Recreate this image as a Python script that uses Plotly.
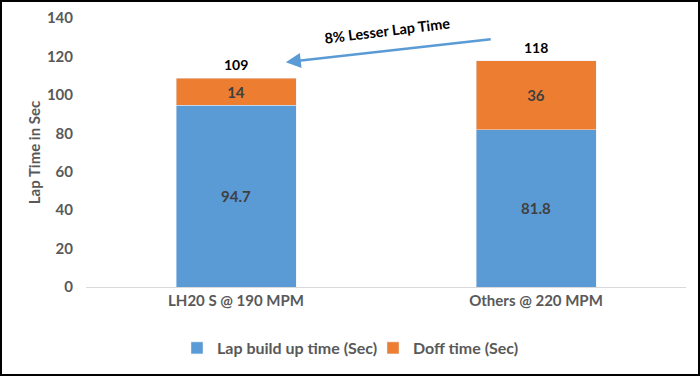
import plotly.graph_objects as go

categories = ["LH20 S @ 190 MPM", "Others @ 220 MPM"]
lap_build = [94.7, 81.8]
doff_time = [14, 36]
y_ticks = [0, 20, 40, 60, 80, 100, 120, 140]

totals = [a + b for a, b in zip(lap_build, doff_time)]

FONT = "Lato"
TXT = "#595959"
DARK = "#404040"

fig = go.Figure()
fig.add_trace(go.Bar(
    x=categories, y=lap_build, name="<b>Lap build up time (Sec)</b>",
    marker_color="#5B9BD5", text=[f"{v}" for v in lap_build],
    textposition="inside", insidetextanchor="middle",
    textfont=dict(family=FONT, size=15, color=DARK),
))
fig.add_trace(go.Bar(
    x=categories, y=doff_time, name="<b>Doff time (Sec)</b>",
    marker_color="#ED7D31", text=[f"{v}" for v in doff_time],
    textposition="inside", insidetextanchor="middle",
    textfont=dict(family=FONT, size=15, color=DARK),
))

for c, t in zip(categories, totals):
    fig.add_annotation(x=c, y=t, text=f"<b>{round(t)}</b>", showarrow=False,
                       yanchor="bottom", yshift=3,
                       font=dict(family=FONT, size=14, color="#000000"))

# arrow
fig.add_annotation(x=0.166, y=117, ax=0.854, ay=129, xref="x", yref="y",
                   axref="x", ayref="y", text="", showarrow=True,
                   arrowhead=2, arrowsize=1.2, arrowwidth=2.5, arrowcolor="#5B9BD5")
fig.add_annotation(x=0.505, y=133.5, xref="x", yref="y", text="<b>8% Lesser Lap Time</b>",
                   showarrow=False, textangle=-7,
                   font=dict(family=FONT, size=14.5, color="#000000"))

fig.update_layout(
    barmode="stack",
    bargap=0.6,
    width=700, height=376,
    margin=dict(l=86, r=14, t=18, b=89, autoexpand=False),
    plot_bgcolor="white", paper_bgcolor="white",
    font=dict(family=FONT, color=TXT),
    showlegend=True,
    legend=dict(orientation="h", x=(177 - 86) / 600, xanchor="left",
                yref="container", y=1 - 348 / 376, yanchor="middle",
                font=dict(family=FONT, size=16, color=TXT), traceorder="normal",
                itemwidth=30, entrywidth=151, entrywidthmode="pixels"),
)
fig.update_yaxes(range=[0, 140], tickvals=y_ticks, showgrid=False, zeroline=False,
                 showline=False, ticks="", ticklen=0, ticklabelstandoff=12, automargin=False,
                 tickfont=dict(family=FONT, size=15, color=TXT),
                 title=dict(text="<b>Lap Time in Sec</b>", font=dict(family=FONT, size=15, color=TXT),
                            standoff=2))
fig.update_xaxes(showgrid=False, showline=True, linecolor="#D9D9D9", linewidth=1,
                 ticks="", automargin=False, tickfont=dict(family=FONT, size=15, color=TXT))
fig.for_each_xaxis(lambda a: a.update(ticktext=[f"<b>{c}</b>" for c in categories], tickvals=categories))
fig.for_each_yaxis(lambda a: a.update(ticktext=[f"<b>{v}</b>" for v in y_ticks]))
fig.update_traces(texttemplate="<b>%{text}</b>")

# outer border
fig.add_shape(type="rect", xref="paper", yref="paper",
              x0=(1 - 86) / 600, x1=(699 - 86) / 600,
              y0=-(375 - 287) / 269, y1=1 + 17 / 269,
              line=dict(color="black", width=2))

post = "document.body.style.margin='0';"
fig.write_html("out.html", config={"displayModeBar": False}, post_script=post)
